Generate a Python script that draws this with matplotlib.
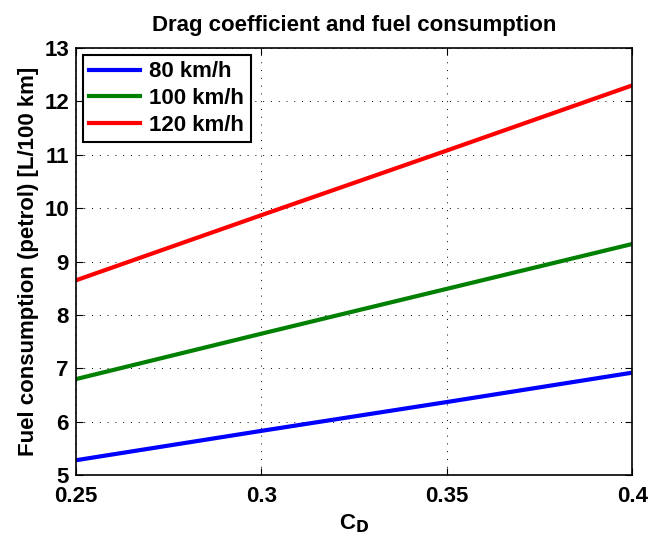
import matplotlib
matplotlib.use('Agg')
import matplotlib.pyplot as plt
import numpy as np

matplotlib.rcParams['font.family'] = ['Liberation Sans', 'DejaVu Sans']
matplotlib.rcParams['font.weight'] = 'bold'

cd = [0.25, 0.30, 0.35, 0.40]
fuel_80 = [5.28, 5.83, 6.37, 6.92]
fuel_100 = [6.80, 7.65, 8.49, 9.33]
fuel_120 = [8.65, 9.87, 11.08, 12.30]
labels = ['80 km/h', '100 km/h', '120 km/h']

fig = plt.figure(figsize=(6.49, 5.40), dpi=100)
ax = fig.add_axes([0.117, 0.120, 0.857, 0.791])

ax.plot(cd, fuel_80, color='#0000ff', lw=3, label=labels[0])
ax.plot(cd, fuel_100, color='#008000', lw=3, label=labels[1])
ax.plot(cd, fuel_120, color='#ff0000', lw=3, label=labels[2])

ax.set_xlim(0.25, 0.4)
ax.set_ylim(5, 13)
ax.set_xticks([0.25, 0.3, 0.35, 0.4], ['0.25', '0.3', '0.35', '0.4'])
ax.set_yticks(np.arange(5, 14, 1))
ax.tick_params(axis='both', direction='in', top=True, right=True, labelsize=16, length=5)
ax.tick_params(axis='x', pad=8)
ax.tick_params(axis='y', pad=5)
for s in ax.spines.values():
    s.set_linewidth(1.2)
ax.grid(True, linestyle=(0, (1, 7)), color='black', linewidth=0.7)

ax.set_xlabel('C$_\\mathbf{D}$', fontsize=16, fontweight='bold', labelpad=4)
ax.set_ylabel('Fuel consumption (petrol) [L/100 km]', fontsize=16, fontweight='bold', labelpad=4)
ax.set_title('Drag coefficient and fuel consumption', fontsize=16, fontweight='bold', pad=12)

leg = ax.legend(loc='upper left', fontsize=16, fancybox=False, framealpha=1,
                edgecolor='black', borderaxespad=0.3, handlelength=2.3,
                handletextpad=0.4, labelspacing=0.25, borderpad=0.3)
leg.get_frame().set_linewidth(1.5)

fig.savefig('out.png', dpi=100)
